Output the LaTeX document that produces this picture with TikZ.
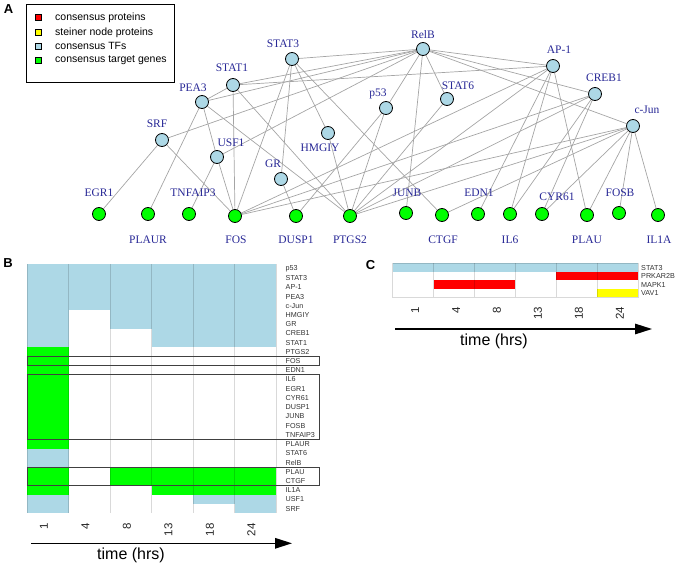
\documentclass[tikz,border=0pt]{standalone}
\usepackage{fontspec}
\setmainfont{Liberation Serif}
\setsansfont{Liberation Sans}
\usetikzlibrary{arrows.meta,backgrounds}
\definecolor{tfblue}{RGB}{173,216,230}
\definecolor{genegreen}{RGB}{0,255,0}
\definecolor{protred}{RGB}{255,0,0}
\definecolor{steineryellow}{RGB}{255,255,0}
\definecolor{namecolor}{RGB}{40,40,150}
\definecolor{linkgray}{RGB}{165,165,165}
\tikzset{
    tf/.style ={
        circle,
        minimum size =13pt,
        inner sep=0pt,
        line width=0.8pt,
        draw=black,
        fill=tfblue
    },
    gene/.style ={tf, fill=genegreen},
    tfname/.style ={text=namecolor, inner sep=0pt, font=\fontsize{11.5}{12}\selectfont},
    link/.style ={draw=linkgray, line width=0.7pt},
    legendbox/.style ={rectangle, draw=black, line width=0.8pt, minimum width=148pt, minimum height=78pt, inner sep=0pt},
    keybox/.style ={rectangle, minimum size=6pt, inner sep=0pt, draw=black, line width=0.6pt},
    keytext/.style ={anchor=west, inner sep=0pt, font=\sffamily\fontsize{10.5}{12}\selectfont},
    panel/.style ={inner sep=0pt, font=\sffamily\bfseries\fontsize{13}{14}\selectfont},
    rowname/.style ={anchor=west, inner sep=0pt, text=black!80, font=\sffamily\fontsize{7.2}{8}\selectfont},
    hour/.style ={anchor=east, rotate=90, inner sep=0pt, text=black!85, font=\sffamily\fontsize{11.5}{12}\selectfont},
    colline/.style ={draw=black, opacity=0.15, line width=0.6pt},
    hbox/.style ={draw=black!75, line width=0.9pt},
    timeaxis/.style ={line width=1.4pt, -{Triangle[length=17pt,width=10.5pt]}},
    timetext/.style ={inner sep=0pt, font=\sffamily\fontsize{16}{18}\selectfont}
}

\begin{document}
\begin{tikzpicture}[x=1pt,y=-1pt]
        \useasboundingbox (0,0) rectangle (680,567);
        % panel A
        \node[panel] (PANELA) at (8.5,8.7) {A};
        \node[legendbox] (LEGEND) at (100,43) {};
        \node[keybox, fill=protred] (KEY1) at (38.3,17.7) {};
        \node[keybox, fill=steineryellow] (KEY2) at (38.3,32.3) {};
        \node[keybox, fill=tfblue] (KEY3) at (38.3,46) {};
        \node[keybox, fill=genegreen] (KEY4) at (38.3,60) {};
        \node[keytext] (KEYTXT1) at (55,17.7) {consensus proteins};
        \node[keytext] (KEYTXT2) at (55,32.3) {steiner node proteins};
        \node[keytext] (KEYTXT3) at (55,46) {consensus TFs};
        \node[keytext] (KEYTXT4) at (55,60) {consensus target genes};

        \node[tf] (STAT3) at (292,59) {};
        \node[tf] (STAT1) at (233,85) {};
        \node[tf] (PEA3) at (202,102) {};
        \node[tf] (SRF) at (162,140) {};
        \node[tf] (USF1) at (217,157) {};
        \node[tf] (GR) at (281,179) {};
        \node[tf] (HMGIY) at (328,133) {};
        \node[tf] (RELB) at (423,49) {};
        \node[tf] (P53) at (386,108) {};
        \node[tf] (STAT6) at (447,99) {};
        \node[tf] (AP1) at (553,66) {};
        \node[tf] (CREB1) at (595,94) {};
        \node[tf] (CJUN) at (633,126) {};

        \node[gene] (EGR1) at (99,214) {};
        \node[gene] (PLAUR) at (148,214) {};
        \node[gene] (TNFAIP3) at (189,214) {};
        \node[gene] (FOS) at (235,216) {};
        \node[gene] (DUSP1) at (296,216) {};
        \node[gene] (PTGS2) at (350,216) {};
        \node[gene] (JUNB) at (406,213) {};
        \node[gene] (CTGF) at (442,215) {};
        \node[gene] (EDN1) at (478,214) {};
        \node[gene] (IL6) at (510,214) {};
        \node[gene] (CYR61) at (542,214) {};
        \node[gene] (PLAU) at (587,215) {};
        \node[gene] (FOSB) at (619,213) {};
        \node[gene] (IL1A) at (658,215) {};

        \node[tfname] (STAT3TXT) at (283,44) {STAT3};
        \node[tfname] (STAT1TXT) at (232,68) {STAT1};
        \node[tfname] (PEA3TXT) at (193,88) {PEA3};
        \node[tfname] (SRFTXT) at (157,124) {SRF};
        \node[tfname] (USF1TXT) at (231,143) {USF1};
        \node[tfname] (GRTXT) at (273,164) {GR};
        \node[tfname] (HMGIYTXT) at (320,148) {HMGIY};
        \node[tfname] (RELBTXT) at (423,35) {RelB};
        \node[tfname] (P53TXT) at (378,94) {p53};
        \node[tfname] (STAT6TXT) at (458,86) {STAT6};
        \node[tfname] (AP1TXT) at (559,50) {AP-1};
        \node[tfname] (CREB1TXT) at (604,78) {CREB1};
        \node[tfname] (CJUNTXT) at (647,110) {c-Jun};
        \node[tfname] (EGR1TXT) at (99,193) {EGR1};
        \node[tfname] (PLAURTXT) at (148,240) {PLAUR};
        \node[tfname] (TNFAIP3TXT) at (193,193) {TNFAIP3};
        \node[tfname] (FOSTXT) at (236,240) {FOS};
        \node[tfname] (DUSP1TXT) at (296,240) {DUSP1};
        \node[tfname] (PTGS2TXT) at (350,240) {PTGS2};
        \node[tfname] (JUNBTXT) at (407,193) {JUNB};
        \node[tfname] (CTGFTXT) at (443,240) {CTGF};
        \node[tfname] (EDN1TXT) at (479,193) {EDN1};
        \node[tfname] (IL6TXT) at (510,240) {IL6};
        \node[tfname] (CYR61TXT) at (557,197) {CYR61};
        \node[tfname] (PLAUTXT) at (587,240) {PLAU};
        \node[tfname] (FOSBTXT) at (620,193) {FOSB};
        \node[tfname] (IL1ATXT) at (659,240) {IL1A};

        \begin{scope}[on background layer]
        \draw[link] (RELB)--(STAT3);
        \draw[link] (RELB)--(STAT1);
        \draw[link] (RELB)--(PEA3);
        \draw[link] (RELB)--(SRF);
        \draw[link] (RELB)--(USF1);
        \draw[link] (RELB)--(P53);
        \draw[link] (RELB)--(STAT6);
        \draw[link] (RELB)--(AP1);
        \draw[link] (RELB)--(CREB1);
        \draw[link] (RELB)--(CJUN);
        \draw[link] (RELB)--(JUNB);
        \draw[link] (STAT3)--(HMGIY);
        \draw[link] (STAT3)--(GR);
        \draw[link] (STAT3)--(FOS);
        \draw[link] (STAT3)--(CTGF);
        \draw[link] (STAT1)--(PEA3);
        \draw[link] (STAT1)--(AP1);
        \draw[link] (STAT1)--(FOS);
        \draw[link] (STAT1)--(PTGS2);
        \draw[link] (PEA3)--(PLAUR);
        \draw[link] (PEA3)--(USF1);
        \draw[link] (PEA3)--(PTGS2);
        \draw[link] (SRF)--(EGR1);
        \draw[link] (SRF)--(FOS);
        \draw[link] (USF1)--(TNFAIP3);
        \draw[link] (USF1)--(FOS);
        \draw[link] (GR)--(DUSP1);
        \draw[link] (HMGIY)--(PTGS2);
        \draw[link] (P53)--(DUSP1);
        \draw[link] (P53)--(PTGS2);
        \draw[link] (STAT6)--(PTGS2);
        \draw[link] (AP1)--(FOS);
        \draw[link] (AP1)--(PTGS2);
        \draw[link] (AP1)--(EDN1);
        \draw[link] (AP1)--(IL6);
        \draw[link] (AP1)--(PLAU);
        \draw[link] (CREB1)--(FOS);
        \draw[link] (CREB1)--(PTGS2);
        \draw[link] (CREB1)--(IL6);
        \draw[link] (CREB1)--(CYR61);
        \draw[link] (CJUN)--(FOS);
        \draw[link] (CJUN)--(PTGS2);
        \draw[link] (CJUN)--(CTGF);
        \draw[link] (CJUN)--(CYR61);
        \draw[link] (CJUN)--(PLAU);
        \draw[link] (CJUN)--(FOSB);
        \draw[link] (CJUN)--(IL1A);
        \end{scope}

        % panel B
        \node[panel] (PANELB) at (8,263.3) {B};
        \fill[tfblue] (27.3,264.3) rectangle (68.75,347.3);
        \fill[genegreen] (27.3,347.3) rectangle (68.75,448.7);
        \fill[tfblue] (27.3,448.7) rectangle (68.75,467.1);
        \fill[genegreen] (27.3,467.1) rectangle (68.75,494.8);
        \fill[tfblue] (27.3,494.8) rectangle (68.75,513.2);
        \fill[tfblue] (68.75,264.3) rectangle (110.2,310.4);
        \fill[tfblue] (110.2,264.3) rectangle (151.65,328.8);
        \fill[genegreen] (110.2,467.1) rectangle (151.65,485.6);
        \fill[tfblue] (151.65,264.3) rectangle (276,347.3);
        \fill[genegreen] (151.65,467.1) rectangle (276,494.8);
        \fill[tfblue] (193.1,494.8) rectangle (276,504.0);
        \fill[tfblue] (234.55,504.0) rectangle (276,513.2);
        \draw[colline] (27.3,264.3)--(27.3,513.2);
        \draw[colline] (68.75,264.3)--(68.75,513.2);
        \draw[colline] (110.2,264.3)--(110.2,513.2);
        \draw[colline] (151.65,264.3)--(151.65,513.2);
        \draw[colline] (193.1,264.3)--(193.1,513.2);
        \draw[colline] (234.55,264.3)--(234.55,513.2);
        \draw[colline] (276,264.3)--(276,513.2);
        \draw[hbox] (27.3,356.5) rectangle (319,365.7);
        \draw[hbox] (27.3,374.9) rectangle (319,439.5);
        \draw[hbox] (27.3,467.1) rectangle (319,485.6);

        \node[rowname] (BROW0) at (285.5,268.9) {p53};
        \node[rowname] (BROW1) at (285.5,278.1) {STAT3};
        \node[rowname] (BROW2) at (285.5,287.3) {AP-1};
        \node[rowname] (BROW3) at (285.5,296.6) {PEA3};
        \node[rowname] (BROW4) at (285.5,305.8) {c-Jun};
        \node[rowname] (BROW5) at (285.5,315.0) {HMGIY};
        \node[rowname] (BROW6) at (285.5,324.2) {GR};
        \node[rowname] (BROW7) at (285.5,333.4) {CREB1};
        \node[rowname] (BROW8) at (285.5,342.7) {STAT1};
        \node[rowname] (BROW9) at (285.5,351.9) {PTGS2};
        \node[rowname] (BROW10) at (285.5,361.1) {FOS};
        \node[rowname] (BROW11) at (285.5,370.3) {EDN1};
        \node[rowname] (BROW12) at (285.5,379.5) {IL6};
        \node[rowname] (BROW13) at (285.5,388.8) {EGR1};
        \node[rowname] (BROW14) at (285.5,398.0) {CYR61};
        \node[rowname] (BROW15) at (285.5,407.2) {DUSP1};
        \node[rowname] (BROW16) at (285.5,416.4) {JUNB};
        \node[rowname] (BROW17) at (285.5,425.6) {FOSB};
        \node[rowname] (BROW18) at (285.5,434.9) {TNFAIP3};
        \node[rowname] (BROW19) at (285.5,444.1) {PLAUR};
        \node[rowname] (BROW20) at (285.5,453.3) {STAT6};
        \node[rowname] (BROW21) at (285.5,462.5) {RelB};
        \node[rowname] (BROW22) at (285.5,471.7) {PLAU};
        \node[rowname] (BROW23) at (285.5,481.0) {CTGF};
        \node[rowname] (BROW24) at (285.5,490.2) {IL1A};
        \node[rowname] (BROW25) at (285.5,499.4) {USF1};
        \node[rowname] (BROW26) at (285.5,508.6) {SRF};

        \node[hour] (BHOUR1) at (44,523.3) {1};
        \node[hour] (BHOUR4) at (85.5,523.3) {4};
        \node[hour] (BHOUR8) at (127,523.3) {8};
        \node[hour] (BHOUR13) at (168.4,523.3) {13};
        \node[hour] (BHOUR18) at (209.8,523.3) {18};
        \node[hour] (BHOUR24) at (251.3,523.3) {24};
        \coordinate (BSTART) at (31,543.3);
        \coordinate (BEND) at (292,543.3);
        \draw[timeaxis] (BSTART)--(BEND);
        \node[timetext] (BTIME) at (131,555.5) {time (hrs)};

        % panel C
        \node[panel] (PANELC) at (370.5,264.7) {C};
        \fill[tfblue] (392.7,263.3) rectangle (638.28,271.8);
        \fill[protred] (556.42,271.8) rectangle (638.28,280.3);
        \fill[protred] (433.63,280.3) rectangle (515.49,288.8);
        \fill[steineryellow] (597.35,288.8) rectangle (638.28,297.3);
        \draw[colline] (392.7,263.3) rectangle (638.28,297.3);
        \draw[colline] (433.63,263.3)--(433.63,297.3);
        \draw[colline] (474.56,263.3)--(474.56,297.3);
        \draw[colline] (515.49,263.3)--(515.49,297.3);
        \draw[colline] (556.42,263.3)--(556.42,297.3);
        \draw[colline] (597.35,263.3)--(597.35,297.3);

        \node[rowname] (CROW0) at (641,267.6) {STAT3};
        \node[rowname] (CROW1) at (641,276.1) {PRKAR2B};
        \node[rowname] (CROW2) at (641,284.6) {MAPK1};
        \node[rowname] (CROW3) at (641,293.1) {VAV1};

        \node[hour] (CHOUR1) at (415.2,307) {1};
        \node[hour] (CHOUR4) at (456.1,307) {4};
        \node[hour] (CHOUR8) at (497,307) {8};
        \node[hour] (CHOUR13) at (538,307) {13};
        \node[hour] (CHOUR18) at (578.9,307) {18};
        \node[hour] (CHOUR24) at (619.8,307) {24};
        \coordinate (CSTART) at (395,329);
        \coordinate (CEND) at (652,329);
        \draw[timeaxis] (CSTART)--(CEND);
        \node[timetext] (CTIME) at (494,341.7) {time (hrs)};
    \end{tikzpicture}
\end{document}
